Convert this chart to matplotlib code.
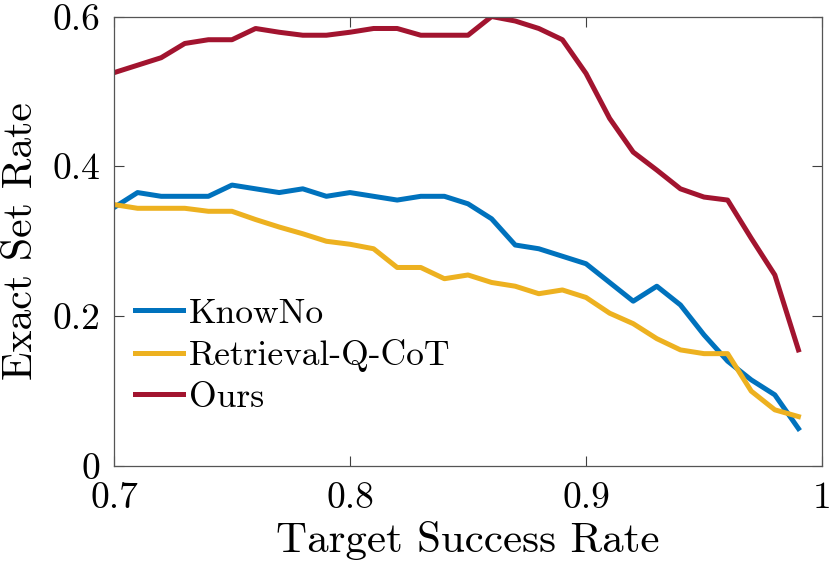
import matplotlib
matplotlib.use("Agg")
import matplotlib.pyplot as plt

# 数据
target_rate = [0.70, 0.71, 0.72, 0.73, 0.74, 0.75, 0.76, 0.77, 0.78, 0.79,
               0.80, 0.81, 0.82, 0.83, 0.84, 0.85, 0.86, 0.87, 0.88, 0.89,
               0.90, 0.91, 0.92, 0.93, 0.94, 0.95, 0.96, 0.97, 0.98, 0.99]
knowno = [0.345, 0.365, 0.360, 0.360, 0.360, 0.375, 0.370, 0.365, 0.370, 0.360,
          0.365, 0.360, 0.355, 0.360, 0.360, 0.350, 0.330, 0.295, 0.290, 0.280,
          0.270, 0.245, 0.220, 0.240, 0.215, 0.175, 0.140, 0.115, 0.095, 0.050]
retrieval_q_cot = [0.349, 0.344, 0.344, 0.344, 0.340, 0.340, 0.329, 0.319, 0.310, 0.300,
                   0.296, 0.290, 0.265, 0.265, 0.250, 0.255, 0.245, 0.240, 0.230, 0.235,
                   0.225, 0.204, 0.190, 0.170, 0.155, 0.150, 0.150, 0.100, 0.075, 0.066]
ours = [0.525, 0.535, 0.545, 0.564, 0.569, 0.569, 0.584, 0.579, 0.575, 0.575,
        0.579, 0.584, 0.584, 0.575, 0.575, 0.575, 0.600, 0.594, 0.584, 0.569,
        0.524, 0.464, 0.419, 0.395, 0.370, 0.359, 0.355, 0.304, 0.255, 0.155]
x_ticks = [0.7, 0.8, 0.9, 1.0]
x_tick_labels = ["0.7", "0.8", "0.9", "1"]
y_ticks = [0, 0.2, 0.4, 0.6]
y_tick_labels = ["0", "0.2", "0.4", "0.6"]

plt.rcParams["font.family"] = ["cmr10", "DejaVu Serif"]
plt.rcParams["mathtext.fontset"] = "cm"
plt.rcParams["axes.unicode_minus"] = False

fig = plt.figure(figsize=(8.3, 5.73), dpi=100)
ax = fig.add_axes([0.1373, 0.1867, 0.8531, 0.7845])

ax.plot(target_rate, knowno, color="#0072BD", lw=3.6, label="KnowNo")
ax.plot(target_rate, retrieval_q_cot, color="#EDB120", lw=3.6, label="Retrieval-Q-CoT")
ax.plot(target_rate, ours, color="#A2142F", lw=3.6, label="Ours")

ax.set_xlim(0.7, 1.0)
ax.set_ylim(0, 0.6)
ax.set_xticks(x_ticks)
ax.set_xticklabels(x_tick_labels)
ax.set_yticks(y_ticks)
ax.set_yticklabels(y_tick_labels)
ax.tick_params(direction="in", length=7, width=0.8, color="#404040",
               labelsize=27, top=True, right=True, pad=10)
ax.tick_params(axis="x", pad=11)
for s in ax.spines.values():
    s.set_color("#555555")
    s.set_linewidth(0.9)

ax.set_xlabel("Target Success Rate", fontsize=31, labelpad=5)
ax.set_ylabel("Exact Set Rate", fontsize=30, labelpad=9)

ax.legend(loc="lower left", bbox_to_anchor=(0.0, 0.069), frameon=False,
          fontsize=25.6, handlelength=1.35, handletextpad=0.15, labelspacing=0.27,
          borderaxespad=0.2)

fig.savefig("out.png", dpi=100)
